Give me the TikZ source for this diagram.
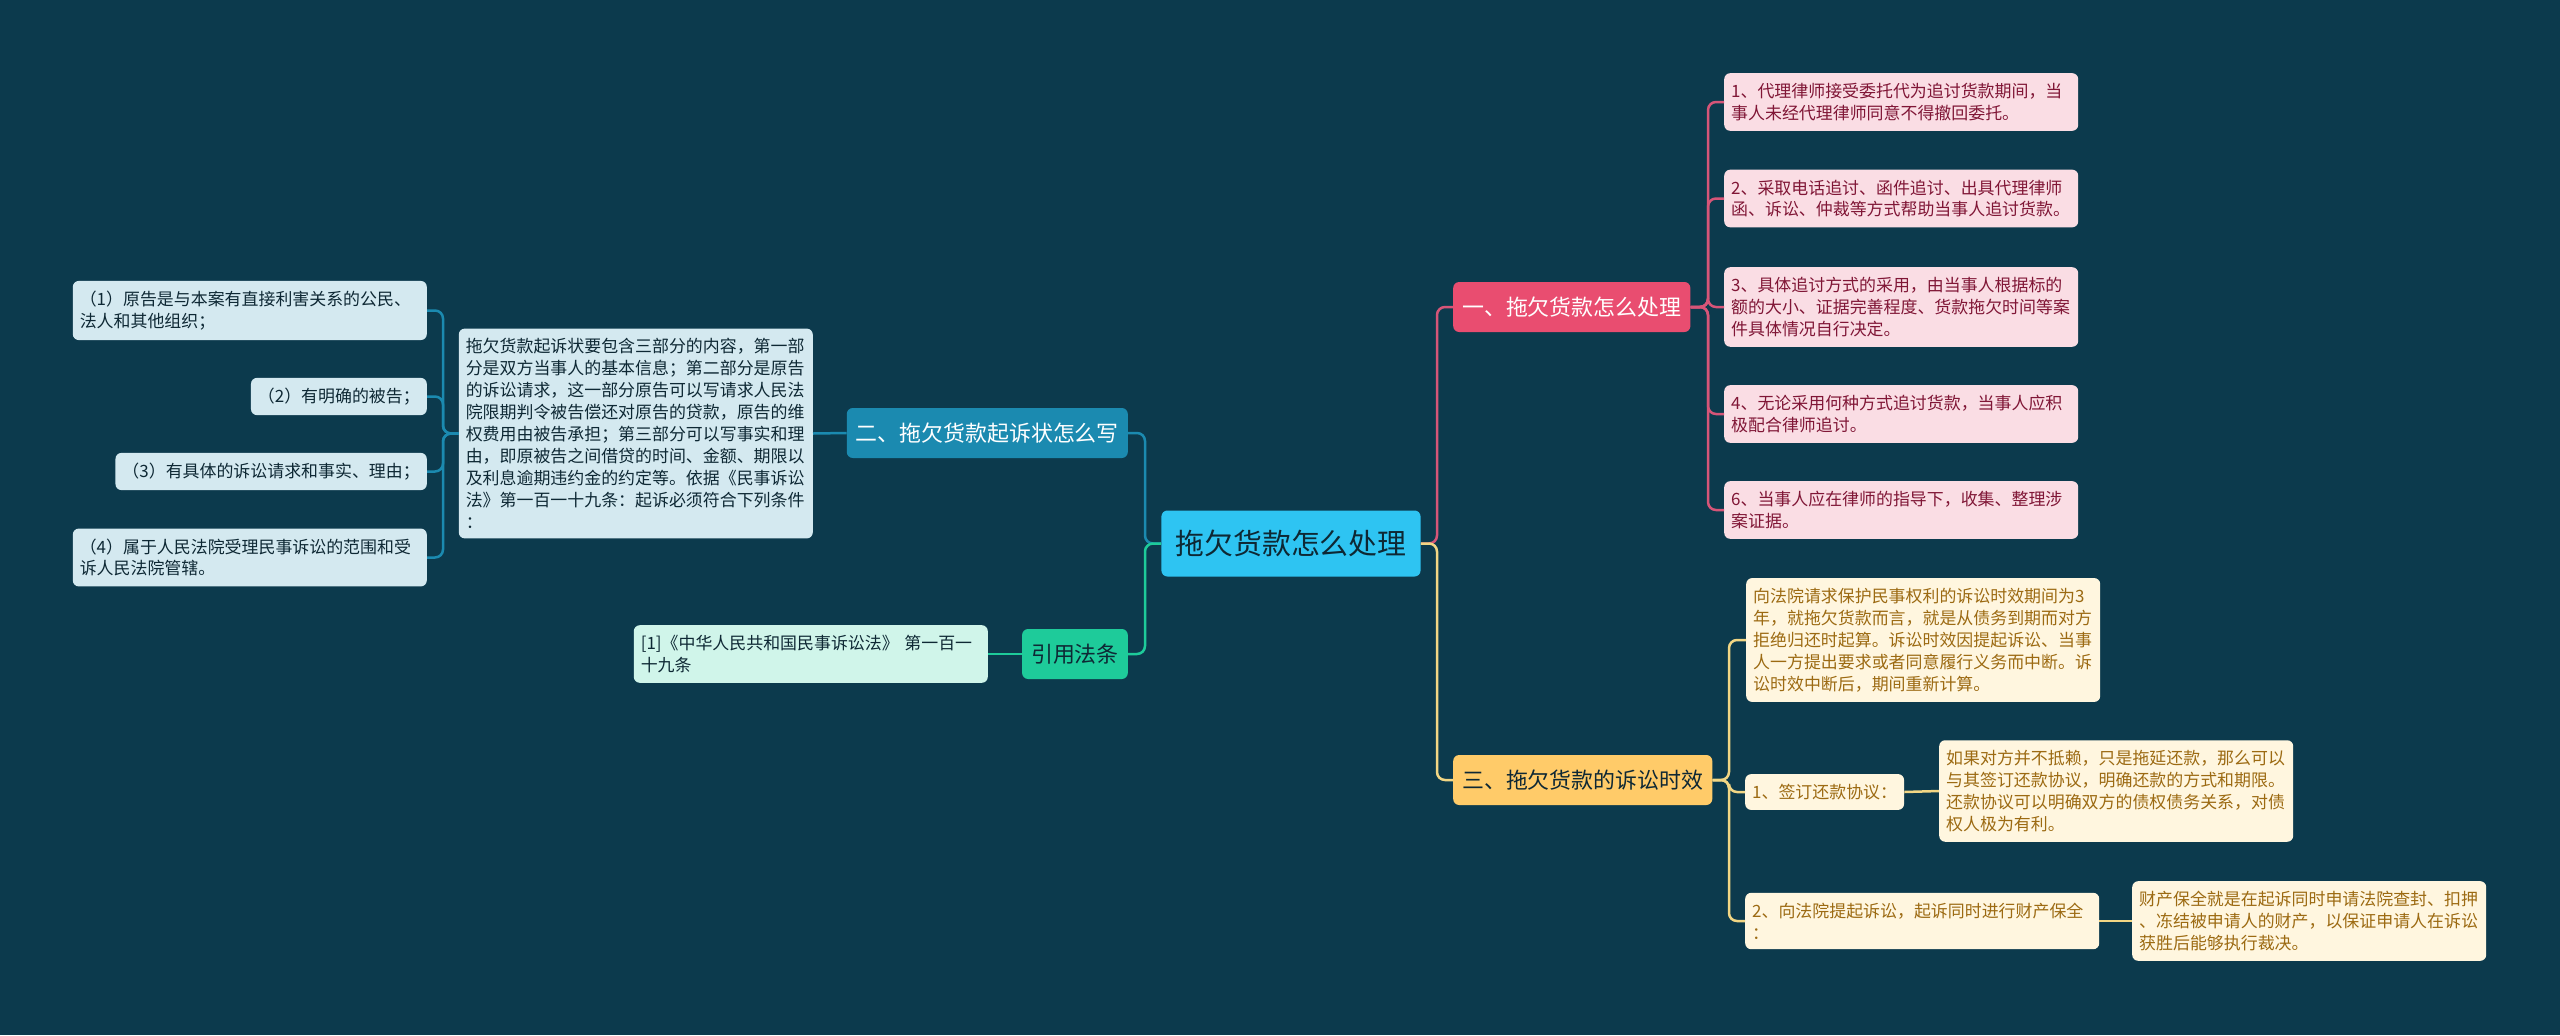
\documentclass[tikz,border=0pt]{standalone}
\usepackage{fontspec}
\newfontfamily\cjk{Noto Sans CJK SC}
\usepackage{tikz}
\definecolor{Cbg}{RGB}{12,58,77}
\definecolor{Cdark}{RGB}{14,40,52}
\definecolor{Croot}{RGB}{46,196,242}
\definecolor{Cpk}{RGB}{233,77,112}
\definecolor{Cpkl}{RGB}{250,221,228}
\definecolor{Cpkt}{RGB}{128,22,54}
\definecolor{Cpkln}{RGB}{214,85,120}
\definecolor{Cbl}{RGB}{27,138,176}
\definecolor{Cbll}{RGB}{212,233,240}
\definecolor{Cgr}{RGB}{30,203,154}
\definecolor{Cgrl}{RGB}{208,245,234}
\definecolor{Cye}{RGB}{255,203,105}
\definecolor{Cyel}{RGB}{255,246,223}
\definecolor{Cyet}{RGB}{156,106,18}
\definecolor{Cyeln}{RGB}{242,214,132}

\begin{document}
\begin{tikzpicture}[x=1bp,y=-1bp,
    root/.style={fill=Croot,text=Cdark,rounded corners=6bp,
      font=\cjk\fontsize{29}{36}\selectfont,inner xsep=14bp,minimum height=66bp},
    branch/.style={rounded corners=6bp,font=\cjk\fontsize{22}{26}\selectfont,
      inner xsep=9bp,minimum height=50bp},
    leaf/.style={rounded corners=6bp,font=\cjk\fontsize{17}{22}\selectfont,
      inner xsep=7bp,inner ysep=10bp,align=left},
    wide/.style={text width=340bp},
    link/.style={line width=2.5bp,rounded corners=8bp}]
    \fill[Cbg] (0,0) rectangle (2560,1035);

    % centre and main branches
    \node[root] (root) at (1291,543.5) {拖欠货款怎么处理};
    \node[branch,fill=Cpk,text=white,anchor=west] (b1) at (1453,307) {一、拖欠货款怎么处理};
    \node[branch,fill=Cye,text=Cdark,anchor=west] (b3) at (1453,780) {三、拖欠货款的诉讼时效};
    \node[branch,fill=Cbl,text=white,anchor=east] (b2) at (1128,433) {二、拖欠货款起诉状怎么写};
    \node[branch,fill=Cgr,text=Cdark,anchor=east] (b4) at (1128,654) {引用法条};

    % pink leaves
    \node[leaf,wide,fill=Cpkl,text=Cpkt,anchor=west] (p1) at (1724,102)
      {1、代理律师接受委托代为追讨货款期间，当\\事人未经代理律师同意不得撤回委托。};
    \node[leaf,wide,fill=Cpkl,text=Cpkt,anchor=west] (p2) at (1724,198.5)
      {2、采取电话追讨、函件追讨、出具代理律师\\函、诉讼、仲裁等方式帮助当事人追讨货款。};
    \node[leaf,wide,fill=Cpkl,text=Cpkt,anchor=west] (p3) at (1724,307)
      {3、具体追讨方式的采用，由当事人根据标的\\额的大小、证据完善程度、货款拖欠时间等案\\件具体情况自行决定。};
    \node[leaf,wide,fill=Cpkl,text=Cpkt,anchor=west] (p4) at (1724,414)
      {4、无论采用何种方式追讨货款，当事人应积\\极配合律师追讨。};
    \node[leaf,wide,fill=Cpkl,text=Cpkt,anchor=west] (p6) at (1724,510)
      {6、当事人应在律师的指导下，收集、整理涉\\案证据。};

    % yellow leaves
    \node[leaf,wide,fill=Cyel,text=Cyet,anchor=west] (y1) at (1746,640)
      {向法院请求保护民事权利的诉讼时效期间为3\\年，就拖欠货款而言，就是从债务到期而对方\\拒绝归还时起算。诉讼时效因提起诉讼、当事\\人一方提出要求或者同意履行义务而中断。诉\\讼时效中断后，期间重新计算。};
    \node[leaf,fill=Cyel,text=Cyet,anchor=west] (y2) at (1745,792) {1、签订还款协议：};
    \node[leaf,wide,fill=Cyel,text=Cyet,anchor=west] (y2c) at (1939,791)
      {如果对方并不抵赖，只是拖延还款，那么可以\\与其签订还款协议，明确还款的方式和期限。\\还款协议可以明确双方的债权债务关系，对债\\权人极为有利。};
    \node[leaf,wide,fill=Cyel,text=Cyet,anchor=west] (y3) at (1745,921)
      {2、向法院提起诉讼，起诉同时进行财产保全\\：};
    \node[leaf,wide,fill=Cyel,text=Cyet,anchor=west] (y3c) at (2132,921)
      {财产保全就是在起诉同时申请法院查封、扣押\\、冻结被申请人的财产，以保证申请人在诉讼\\获胜后能够执行裁决。};

    % blue and green leaves
    \node[leaf,wide,fill=Cbll,text=Cdark,anchor=east] (bt) at (813,433.5)
      {拖欠货款起诉状要包含三部分的内容，第一部\\分是双方当事人的基本信息；第二部分是原告\\的诉讼请求，这一部分原告可以写请求人民法\\院限期判令被告偿还对原告的贷款，原告的维\\权费用由被告承担；第三部分可以写事实和理\\由，即原被告之间借贷的时间、金额、期限以\\及利息逾期违约金的约定等。依据《民事诉讼\\法》第一百一十九条：起诉必须符合下列条件\\：};
    \node[leaf,wide,fill=Cbll,text=Cdark,anchor=east] (c1) at (427,310.5)
      {（1）原告是与本案有直接利害关系的公民、\\法人和其他组织；};
    \node[leaf,fill=Cbll,text=Cdark,anchor=east] (c2) at (427,396.5) {（2）有明确的被告；};
    \node[leaf,fill=Cbll,text=Cdark,anchor=east] (c3) at (427,471.5) {（3）有具体的诉讼请求和事实、理由；};
    \node[leaf,wide,fill=Cbll,text=Cdark,anchor=east] (c4) at (427,557.5)
      {（4）属于人民法院受理民事诉讼的范围和受\\诉人民法院管辖。};
    \node[leaf,wide,fill=Cgrl,text=Cdark,anchor=east] (lw) at (988,654)
      {[1]《中华人民共和国民事诉讼法》 第一百一\\十九条};

    % connectors
    \coordinate (jr) at (1437,543.5);
    \coordinate (jl) at (1145,543.5);
    \coordinate (j1) at (1708,307);
    \coordinate (j3) at (1729,780);
    \coordinate (j2) at (443,433.5);
    \draw[link,Cpkln] (root.east) -- (jr) |- (b1.west);
    \draw[link,Cyeln] (root.east) -- (jr) |- (b3.west);
    \draw[link,Cbl] (root.west) -- (jl) |- (b2.east);
    \draw[link,Cgr] (root.west) -- (jl) |- (b4.east);
    \foreach \n in {p1,p2,p3,p4,p6}
      \draw[link,Cpkln] (b1.east) -- (j1) |- (\n.west);
    \foreach \n in {y1,y2,y3}
      \draw[link,Cyeln] (b3.east) -- (j3) |- (\n.west);
    \draw[link,Cyeln] (y2.east) -- (y2c.west);
    \draw[link,Cyeln] (y3.east) -- (y3c.west);
    \draw[link,Cbl] (b2.west) -- (bt.east);
    \foreach \n in {c1,c2,c3,c4}
      \draw[link,Cbl] (bt.west) -- (j2) |- (\n.east);
    \draw[link,Cgr] (b4.west) -- (lw.east);
\end{tikzpicture}
\end{document}
